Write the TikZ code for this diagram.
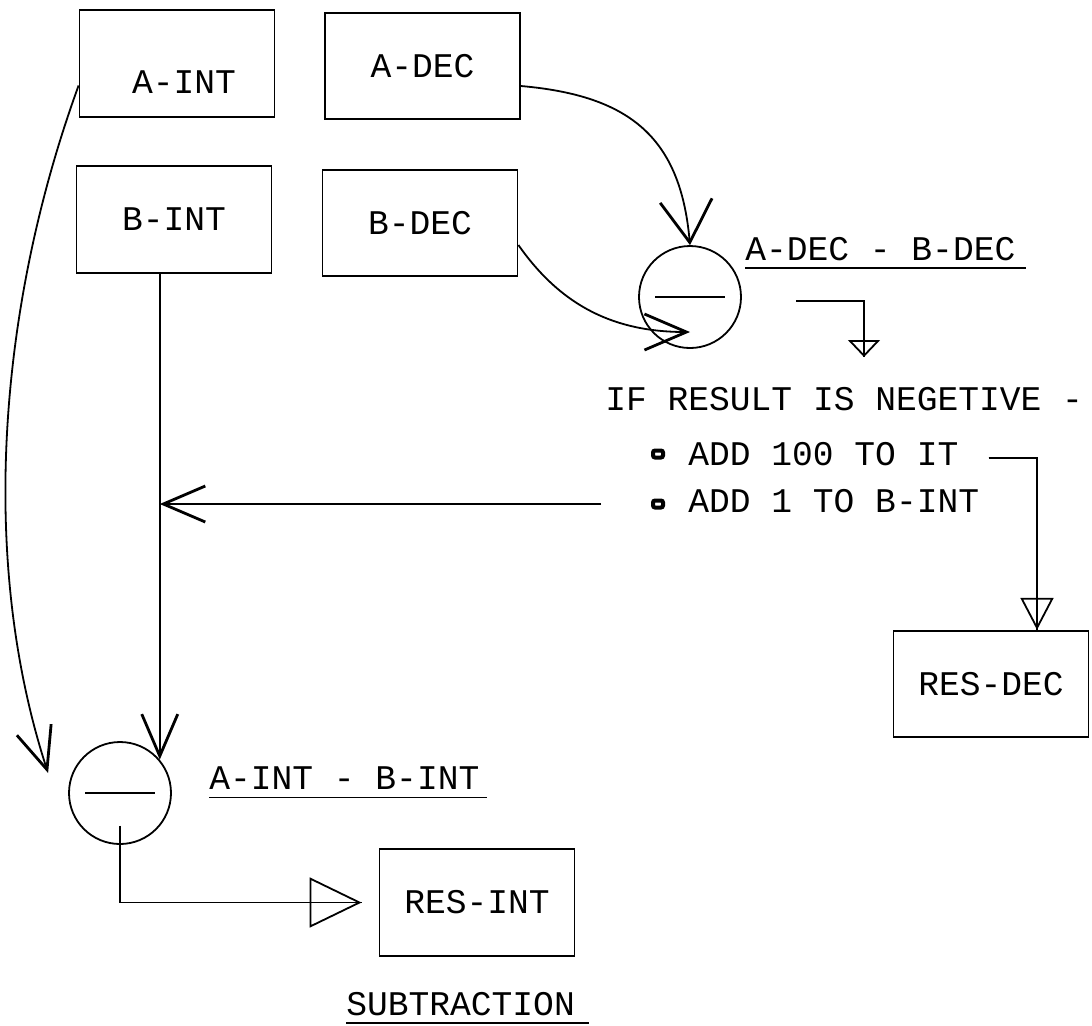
\documentclass[tikz,border=0pt]{standalone}
\usepackage{fontspec}
\usepackage{tikz}
\usetikzlibrary{arrows.meta,calc}
\newfontfamily\monofam{Liberation Mono}
\newcommand\plotfont{\monofam\fontsize{17.3}{20}\selectfont}
\tikzset{
  box/.style={draw,line width=0.9pt,minimum width=97.5pt,minimum height=53.25pt,inner sep=0pt,font=\plotfont},
  txt/.style={inner sep=0pt,font=\plotfont},
  subop/.style={circle,draw,line width=0.9pt,minimum size=51pt,inner sep=0pt},
  bul/.style={draw,line width=2pt,rounded corners=1pt,minimum width=5pt,minimum height=3.5pt,inner sep=0pt},
  vee/.style={-{Straight Barb[length=21pt,width=#1,line width=1.4pt]},line width=0.9pt},
  vee/.default=18pt,
  tri/.style 2 args={line width=0.9pt,postaction={draw,-{Triangle[open,length=#1,width=#2,line width=0.9pt]}}},
}

\begin{document}
\begin{tikzpicture}[x=0.5pt,y=-0.5pt]
  \useasboundingbox (0,0) rectangle (1092,1025);
  % operand boxes
  \node[box,label={[txt,xshift=3.5pt,yshift=-9.25pt]center:A-INT}] (aint) at (177,63.5) {};
  \node[box] (adec) at (422.5,66) {A-DEC};
  \node[box] (bint) at (174,219.5) {B-INT};
  \node[box] (bdec) at (420,223) {B-DEC};
  \node[box] (resdec) at (991,684) {RES-DEC};
  \node[box] (resint) at (477,902.5) {RES-INT};
  % subtractors
  \node[subop] (decop) at (690,297) {\rule{35pt}{0.9pt}};
  \node[subop] (intop) at (120,793) {\rule{35pt}{0.9pt}};
  % texts
  \node[txt,anchor=base west] (decdiff) at (745,260) {A-DEC - B-DEC};
  \draw[line width=0.9pt] ([yshift=-3.5pt]decdiff.south west) -- ([xshift=5pt,yshift=-3.5pt]decdiff.south east);
  \node[txt,anchor=base west] (intdiff) at (209,789) {A-INT - B-INT};
  \draw[line width=0.9pt] ([yshift=-4pt]intdiff.south west) -- ([xshift=3.5pt,yshift=-4pt]intdiff.south east);
  \node[txt,anchor=base west] (title) at (346,1015) {SUBTRACTION};
  \draw[line width=0.9pt] ([yshift=-3.5pt]title.south west) -- ([xshift=7pt,yshift=-3.5pt]title.south east);
  \node[txt,anchor=base west] (ifneg) at (605,410) {IF RESULT IS NEGETIVE -};
  \node[bul] (bul1) at (658,454) {};
  \node[txt,anchor=base west] (addhund) at (688,465) {ADD 100 TO IT};
  \node[bul] (bul2) at (658,504) {};
  \node[txt,anchor=base west] (addone) at (688,512) {ADD 1 TO B-INT};
  % connectors
  \draw[vee] ([yshift=-11pt]aint.west) to[out=250,in=108,looseness=0.85] ([xshift=-10pt,yshift=10pt]intop.west);
  \draw[vee=26pt] ([yshift=-10pt]adec.east) to[out=-5,in=95,looseness=1.2] (decop.north);
  \draw[vee] ([yshift=-11pt]bdec.east) to[out=-55,in=180] ([yshift=-17.5pt]decop.center);
  \coordinate (decout) at (796,301);
  \coordinate (decdown) at (864,357);
  \draw[tri={8.5pt}{16pt}] (decout) -| (decdown);
  \draw[tri={16pt}{16.5pt}] ([xshift=15pt,yshift=-2pt]addhund.east) -| ([xshift=23pt]resdec.north);
  \draw[vee] ([xshift=-25pt]bul2.west) -- (intop.40 |- bul2.west);
  \draw[vee] (intop.40 |- bint.south) -- (intop.40);
  \draw[tri={26pt}{25pt}] ([yshift=9.5pt]intop.south) |- ([xshift=-8.5pt]resint.west);
\end{tikzpicture}
\end{document}
